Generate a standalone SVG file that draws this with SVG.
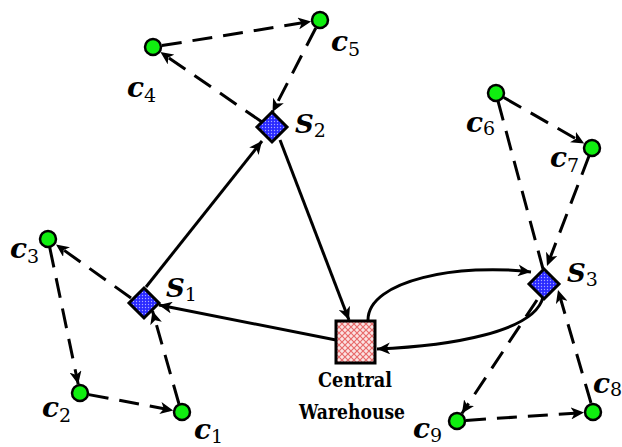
<svg xmlns="http://www.w3.org/2000/svg" width="622" height="447" viewBox="0 0 622 447">
<defs>
<pattern id="dots" width="3" height="3" patternUnits="userSpaceOnUse">
<rect width="3" height="3" fill="#2a2aff"/>
<circle cx="1.5" cy="1.5" r="0.7" fill="#a8a8ff"/>
</pattern>
<pattern id="hatch" width="6" height="6" patternUnits="userSpaceOnUse">
<rect width="6" height="6" fill="#fbe3e3"/>
<path d="M0,0 L6,6 M6,0 L0,6" stroke="#e86a6a" stroke-width="1.2"/>
</pattern>
<marker id="ah" markerWidth="14" markerHeight="12" refX="13" refY="6" orient="auto" markerUnits="userSpaceOnUse">
<path d="M0,0 L13,6 L0,12 L3.5,6 z" fill="#000"/>
</marker>
</defs>
<style>
.s{fill:none;stroke:#000;stroke-width:3}
.d{fill:none;stroke:#000;stroke-width:3;stroke-dasharray:20 11}
.cust{fill:#10ee10;stroke:#000;stroke-width:2.5}
.dep{fill:url(#dots);stroke:#000;stroke-width:3}
.t{font-family:"DejaVu Serif",serif;fill:#000}
.v{font-style:italic;font-weight:bold;font-size:28px}
.sv{font-style:italic;font-weight:bold;font-size:26px}
.sub{font-size:19px}
.lbl{font-weight:bold;font-size:21px;text-anchor:middle}
</style>
<g id="connectors">
<path class="s" d="M146,287 L262,141" marker-end="url(#ah)"/>
<path class="s" d="M280,140 L349,320" marker-end="url(#ah)"/>
<path class="s" d="M336,340 L159,305" marker-end="url(#ah)"/>
<path class="s" d="M368,320 C368,280 460,263 531,272" marker-end="url(#ah)"/>
<path class="s" d="M543,297 C535,332 450,346 377,349" marker-end="url(#ah)"/>
<path class="d" d="M262,122 L160.4,52.1" marker-end="url(#ah)"/>
<path class="d" d="M161.9,45.6 L311.1,21.4" marker-end="url(#ah)"/>
<path class="d" d="M315.8,28 L272.5,112" marker-end="url(#ah)"/>
<path class="d" d="M131,298 L56,244.5" marker-end="url(#ah)"/>
<path class="d" d="M49.8,247.8 L78.2,384.2" marker-end="url(#ah)"/>
<path class="d" d="M88.8,394.6 L173.2,410.4" marker-end="url(#ah)"/>
<path class="d" d="M179,404 L152.5,311" marker-end="url(#ah)"/>
<path class="d" d="M503.8,97.5 L584.2,143.5" marker-end="url(#ah)"/>
<path class="d" d="M498,101 L543,269"/>
<path class="d" d="M589,156 L547,266" marker-end="url(#ah)"/>
<path class="d" d="M537,300 L461.9,413.5" marker-end="url(#ah)"/>
<path class="d" d="M466,420.4 L584,412.6" marker-end="url(#ah)"/>
<path class="d" d="M591,403 L558,290" marker-end="url(#ah)"/>
</g>
<g id="warehouse">
<rect x="336" y="321" width="39" height="42" fill="url(#hatch)" stroke="#000" stroke-width="3"/>
<text class="t lbl" x="355" y="387" textLength="74" lengthAdjust="spacingAndGlyphs">Central</text>
<text class="t lbl" x="352" y="419" textLength="106" lengthAdjust="spacingAndGlyphs">Warehouse</text>
</g>
<g id="S1">
<polygon class="dep" points="144,288 159,303 144,318 129,303"/>
<text class="t" x="166" y="297"><tspan class="sv">S</tspan><tspan class="sub" dy="4">1</tspan></text>
</g>
<g id="S2">
<polygon class="dep" points="272,112 287,127 272,142 257,127"/>
<text class="t" x="295" y="133"><tspan class="sv">S</tspan><tspan class="sub" dy="4">2</tspan></text>
</g>
<g id="S3">
<polygon class="dep" points="544,269 559,284 544,299 529,284"/>
<text class="t" x="567" y="282"><tspan class="sv">S</tspan><tspan class="sub" dy="4">3</tspan></text>
</g>
<g id="c1"><circle class="cust" cx="182" cy="412" r="8"/><text class="t" x="194" y="439"><tspan class="v">c</tspan><tspan class="sub" dy="4">1</tspan></text></g>
<g id="c2"><circle class="cust" cx="80" cy="393" r="8"/><text class="t" x="42" y="417"><tspan class="v">c</tspan><tspan class="sub" dy="5">2</tspan></text></g>
<g id="c3"><circle class="cust" cx="48" cy="239" r="8"/><text class="t" x="10" y="258"><tspan class="v">c</tspan><tspan class="sub" dy="5">3</tspan></text></g>
<g id="c4"><circle class="cust" cx="153" cy="47" r="8"/><text class="t" x="127" y="97"><tspan class="v">c</tspan><tspan class="sub" dy="5">4</tspan></text></g>
<g id="c5"><circle class="cust" cx="320" cy="20" r="8"/><text class="t" x="331" y="51"><tspan class="v">c</tspan><tspan class="sub" dy="5">5</tspan></text></g>
<g id="c6"><circle class="cust" cx="496" cy="93" r="8"/><text class="t" x="466" y="132"><tspan class="v">c</tspan><tspan class="sub" dy="3">6</tspan></text></g>
<g id="c7"><circle class="cust" cx="592" cy="148" r="8"/><text class="t" x="550" y="167"><tspan class="v">c</tspan><tspan class="sub" dy="5">7</tspan></text></g>
<g id="c8"><circle class="cust" cx="593" cy="412" r="8"/><text class="t" x="593" y="393"><tspan class="v">c</tspan><tspan class="sub" dy="3" font-size="17">8</tspan></text></g>
<g id="c9"><circle class="cust" cx="457" cy="421" r="8"/><text class="t" x="413" y="438"><tspan class="v">c</tspan><tspan class="sub" dy="4">9</tspan></text></g>
</svg>
